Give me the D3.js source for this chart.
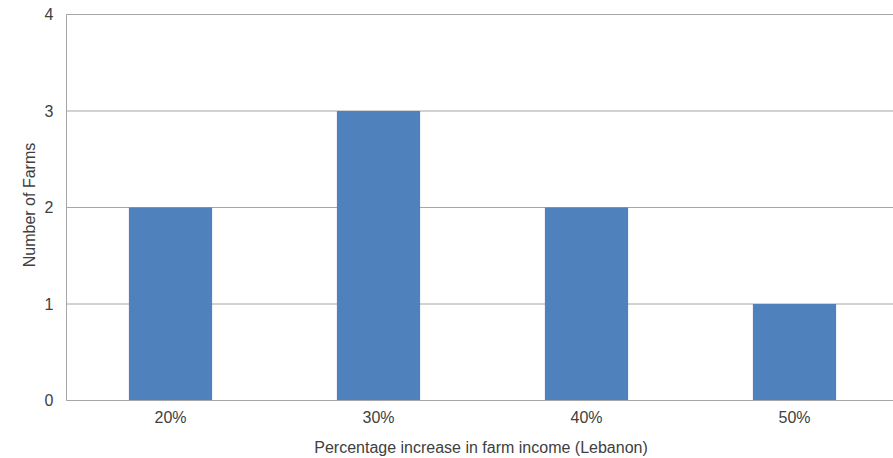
<!DOCTYPE html>
<html><head><meta charset="utf-8">
<script src="https://cdn.jsdelivr.net/npm/d3@7"></script>
<style>body{margin:0;background:#fff;overflow:hidden}text{font-family:"Liberation Sans",Arial,sans-serif;fill:#404040}</style>
</head><body><svg id="c" width="893" height="458"></svg>
<script>
const categories = ["20%","30%","40%","50%"];
const farms = [2,3,2,1];
const yTicks = [0,1,2,3,4];

(function(){
const svg = d3.select("#c");
const L = 66.5, R = 898.5, T = 14.5, B = 400.5;
const x = d3.scaleBand().domain(categories).range([L,R]).padding(0);
const y = d3.scaleLinear().domain([0,4]).range([B,T]);

svg.append("g").selectAll("line").data(yTicks).join("line")
  .attr("x1",L).attr("x2",893).attr("y1",d=>y(d)).attr("y2",d=>y(d))
  .attr("stroke","#a6a6a6").attr("stroke-width",1);

const bw = x.bandwidth()*0.4;
svg.append("g").selectAll("rect").data(farms).join("rect")
  .attr("x",(d,i)=>x(categories[i])+x.bandwidth()/2-bw/2)
  .attr("width",bw)
  .attr("y",d=>y(d)).attr("height",d=>y(0)-y(d))
  .attr("fill","#4f81bd");

svg.append("line").attr("x1",L).attr("x2",L).attr("y1",T).attr("y2",B)
  .attr("stroke","#a6a6a6");
svg.append("line").attr("x1",L).attr("x2",893).attr("y1",B).attr("y2",B)
  .attr("stroke","#a6a6a6");

const yAxis = d3.axisLeft(y).tickValues(yTicks).tickSize(0).tickPadding(13).tickFormat(d3.format("d"));
const gy = svg.append("g").attr("transform",`translate(${L},0)`).call(yAxis);
gy.select(".domain").remove();
gy.selectAll("text").style("font-size","16px").style("font-family",'"Liberation Sans",Arial,sans-serif').attr("fill","#404040");

const xAxis = d3.axisBottom(x).tickSize(0).tickPadding(11);
const gx = svg.append("g").attr("transform",`translate(0,${B})`).call(xAxis);
gx.select(".domain").remove();
gx.selectAll("text").style("font-size","16px").style("font-family",'"Liberation Sans",Arial,sans-serif').attr("fill","#404040");

svg.append("text").attr("x",481).attr("y",452.5).attr("text-anchor","middle")
  .style("font-size","16px").text("Percentage increase in farm income (Lebanon)");
svg.append("text").attr("transform","translate(35,205) rotate(-90)").attr("text-anchor","middle")
  .style("font-size","16px").text("Number of Farms");
})();
</script></body></html>
